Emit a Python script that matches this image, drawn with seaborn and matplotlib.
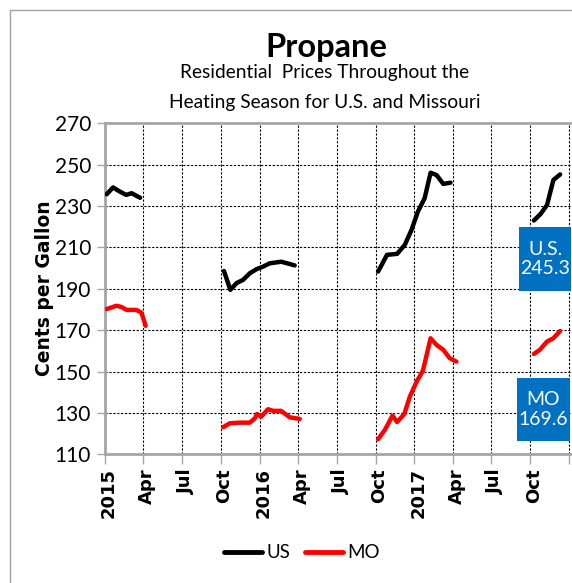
import seaborn as sns
import matplotlib.pyplot as plt
import matplotlib.transforms as mtransforms
from matplotlib.patches import Rectangle
from matplotlib.lines import Line2D
import pandas as pd

# weekly-ish residential propane prices (cents per gallon)
us_dates = ['2015-01-05', '2015-01-20', '2015-02-05', '2015-02-20', '2015-03-05', '2015-03-25',
            '2015-10-09', '2015-10-24', '2015-11-08', '2015-11-23', '2015-12-09', '2015-12-25',
            '2016-01-09', '2016-01-25', '2016-02-21', '2016-03-12', '2016-03-24',
            '2016-10-07', '2016-10-28', '2016-11-21', '2016-12-09', '2016-12-25',
            '2017-01-09', '2017-01-25', '2017-02-08', '2017-02-22', '2017-03-10', '2017-03-27',
            '2017-10-10', '2017-10-26', '2017-11-10', '2017-11-25', '2017-12-11']
us_price = [235.7, 239.0, 237.0, 235.4, 236.2, 234.0,
            198.6, 189.5, 192.8, 194.3, 197.5, 199.5,
            200.7, 202.3, 203.1, 202.0, 201.3,
            198.3, 206.4, 206.9, 211.2, 218.5,
            227.3, 233.8, 246.1, 245.0, 240.7, 241.3,
            223.0, 226.2, 230.5, 242.6, 245.3]

mo_dates = ['2015-01-05', '2015-01-28', '2015-02-09', '2015-02-21', '2015-03-16', '2015-03-28', '2015-04-07',
            '2015-10-07', '2015-10-23', '2015-11-15', '2015-12-09', '2015-12-21', '2015-12-26',
            '2016-01-05', '2016-01-21', '2016-02-02', '2016-02-21', '2016-03-12', '2016-04-05',
            '2016-10-07', '2016-10-23', '2016-11-10', '2016-11-21', '2016-12-08', '2016-12-21',
            '2017-01-06', '2017-01-21', '2017-02-08', '2017-02-22', '2017-03-10', '2017-03-25', '2017-04-10',
            '2017-10-10', '2017-10-24', '2017-11-10', '2017-11-25', '2017-12-11']
mo_price = [180.2, 181.8, 181.2, 179.8, 179.8, 178.5, 172.1,
            123.1, 125.0, 125.3, 125.3, 127.4, 129.5,
            128.2, 131.8, 131.0, 131.0, 127.9, 127.1,
            117.3, 121.8, 128.7, 125.6, 129.5, 137.9,
            145.1, 150.5, 166.1, 162.9, 160.5, 156.5, 154.8,
            158.5, 160.5, 164.5, 166.1, 169.6]

tick_dates = pd.date_range('2015-01-01', '2018-01-01', freq='QS')
tick_labels = ['2015', 'Apr', 'Jul', 'Oct', '2016', 'Apr', 'Jul', 'Oct',
               '2017', 'Apr', 'Jul', 'Oct', '']

us = pd.DataFrame({'date': pd.to_datetime(us_dates), 'price': us_price, 'series': 'US'})
mo = pd.DataFrame({'date': pd.to_datetime(mo_dates), 'price': mo_price, 'series': 'MO'})
df = pd.concat([us, mo], ignore_index=True)
# heating season id so each winter is its own segment
df['season'] = df['date'].dt.year + (df['date'].dt.month >= 7).astype(int)

sns.set_style('white')
plt.rcParams['font.family'] = ['Lato', 'DejaVu Sans']
plt.rcParams['text.color'] = 'black'
plt.rcParams['xtick.color'] = 'black'
plt.rcParams['ytick.color'] = 'black'

W, H = 572, 583
fig = plt.figure(figsize=(W / 100, H / 100), dpi=100)
ax = fig.add_axes([105 / W, 1 - 454.3 / H, (W - 105) / W, (454.3 - 123.3) / H])

colors = {'US': 'black', 'MO': '#FF0000'}
sns.lineplot(data=df, x='date', y='price', hue='series', units='season', estimator=None,
             palette=colors, linewidth=3.2, legend=False, ax=ax, zorder=3)

ax.set_xlim(pd.Timestamp('2015-01-01'), pd.Timestamp('2018-01-08'))
ax.set_ylim(110, 270)
ax.set_yticks(range(110, 271, 20))
ax.set_xticks(tick_dates)
ax.set_xticklabels(tick_labels, rotation=90, fontsize=13, fontweight='bold', family='DejaVu Sans')
ax.tick_params(axis='y', labelsize=15, length=6, width=1, color='#A6A6A6', labelcolor='black',
               pad=4, left=True)
ax.tick_params(axis='x', length=7, width=1, color='#A6A6A6', labelcolor='black', pad=3, bottom=True)
offset = mtransforms.ScaledTranslation(4 / 100, 0, fig.dpi_scale_trans)
for lbl in ax.get_xticklabels():
    lbl.set_transform(lbl.get_transform() + offset)

ax.grid(True, color='black', linestyle=(0, (2, 1.5)), linewidth=0.8)
for side in ['left', 'bottom', 'top']:
    ax.spines[side].set_color('#A6A6A6')
    ax.spines[side].set_linewidth(2)
ax.spines['right'].set_visible(False)
ax.set_xlabel('')
ax.set_ylabel('')

fig.text(45 / W, 1 - 288 / H, 'Cents per Gallon', rotation=90, ha='center', va='center',
         fontsize=13.5, fontweight='bold', family='DejaVu Sans')

fig.text(326 / W, 1 - 57 / H, 'Propane', ha='center', va='baseline', fontsize=23.5, fontweight='bold')
fig.text(325 / W, 1 - 78 / H, 'Residential  Prices Throughout the', ha='center', va='baseline', fontsize=13.8)
fig.text(325 / W, 1 - 108 / H, 'Heating Season for U.S. and Missouri', ha='center', va='baseline', fontsize=13.8)

# value call-out boxes
for (x0, y0, x1, y1), txt in [((519, 227, 571, 291), 'U.S.\n245.3'), ((517, 378, 570, 441), 'MO\n169.6')]:
    fig.patches.append(Rectangle((x0 / W, 1 - y1 / H), (x1 - x0) / W, (y1 - y0) / H,
                                 transform=fig.transFigure, facecolor='#0070C0', edgecolor='none', zorder=5))
    fig.text((x0 + x1) / 2 / W, 1 - (y0 + y1) / 2 / H, txt, ha='center', va='center', color='white',
             fontsize=14, linespacing=1.2, zorder=6)

# outer frame
fig.patches.append(Rectangle((10 / W, -0.1), 1.2, 1 - 10 / H + 0.1, transform=fig.transFigure,
                             fill=False, edgecolor='#A0A0A0', linewidth=1))

handles = [Line2D([], [], color='black', lw=3.5), Line2D([], [], color='#FF0000', lw=3.5)]
fig.legend(handles, ['US', 'MO'], loc='center', bbox_to_anchor=(302 / W, 1 - 553 / H), ncol=2,
           frameon=False, fontsize=13.5, handlelength=2.0, handletextpad=0.25, columnspacing=0.8)

fig.savefig('out.png', dpi=100)
